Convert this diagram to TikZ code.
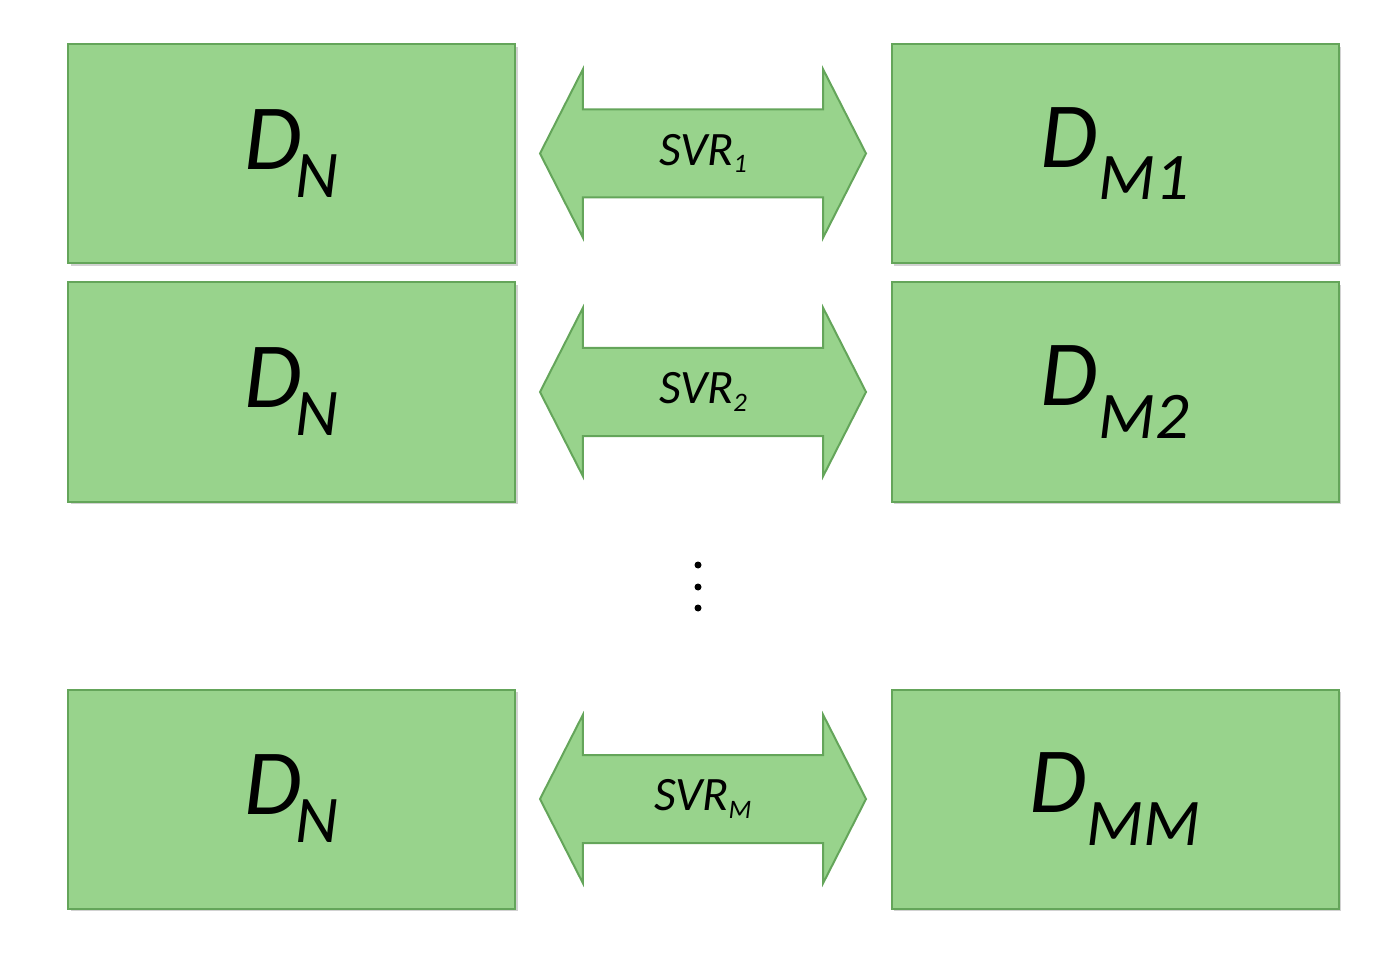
\documentclass[tikz,border=0pt]{standalone}
\usepackage{fontspec}
\setmainfont{Carlito}
\usetikzlibrary{shapes.arrows,shadows}
\definecolor{gfill}{RGB}{152,211,140}
\definecolor{gline}{RGB}{100,165,90}
\begin{document}
\begin{tikzpicture}[x=0.75pt,y=-0.75pt,
  box/.style={draw=gline,line width=1.5pt,fill=gfill,minimum width=447*0.75pt,minimum height=219*0.75pt,inner sep=0pt,
    drop shadow={shadow xshift=2pt,shadow yshift=-2pt,fill=black!35,opacity=0.5}},
  dar/.style={shape=double arrow,draw=gline,line width=1.5pt,fill=gfill,shape border rotate=0,
    minimum height=326*0.75pt,minimum width=168*0.75pt,double arrow head extend=40*0.75pt,
    double arrow tip angle=126,inner xsep=0pt,inner ysep=43*0.75pt,text height=0pt,text depth=0pt,text width=0pt},
  big/.style={font=\fontsize{70}{70}\selectfont\itshape},
  svr/.style={font=\fontsize{36}{36}\selectfont\itshape}]
\useasboundingbox (0,0) rectangle (1374,973);
\node[box] (l1) at (291.5,153.5) {};
\node[box] (r1) at (1115,153.5) {};
\node[box] (l2) at (291.5,392) {};
\node[box] (r2) at (1115,392) {};
\node[box] (l3) at (291.5,799) {};
\node[box] (r3) at (1115,799) {};
\node[dar] (a1) at (703,153.5) {};
\node[dar] (a2) at (703,392) {};
\node[dar] (a3) at (703,799) {};
\node[big] (t1) at (l1.center) {D$\!$\raisebox{-0.3em}{\fontsize{50}{50}\selectfont N}};
\node[big] (t2) at (l2.center) {D$\!$\raisebox{-0.3em}{\fontsize{50}{50}\selectfont N}};
\node[big] (t3) at (l3.center) {D$\!$\raisebox{-0.3em}{\fontsize{50}{50}\selectfont N}};
\node[big] (u1) at (r1.center) {D\raisebox{-0.35em}{\fontsize{50}{50}\selectfont M1}};
\node[big] (u2) at (r2.center) {D\raisebox{-0.35em}{\fontsize{50}{50}\selectfont M2}};
\node[big] (u3) at (r3.center) {D\raisebox{-0.35em}{\fontsize{50}{50}\selectfont MM}};
\node[svr] (s1) at (a1.center) {SVR\raisebox{-0.15em}{\fontsize{20}{20}\selectfont 1}};
\node[svr] (s2) at (a2.center) {SVR\raisebox{-0.15em}{\fontsize{20}{20}\selectfont 2}};
\node[svr] (s3) at (a3.center) {SVR\raisebox{-0.15em}{\fontsize{20}{20}\selectfont M}};
\foreach \yy [count=\i] in {565,587,608} \fill[black] (698,\yy) circle (3.5) coordinate (d\i);
\end{tikzpicture}
\end{document}
